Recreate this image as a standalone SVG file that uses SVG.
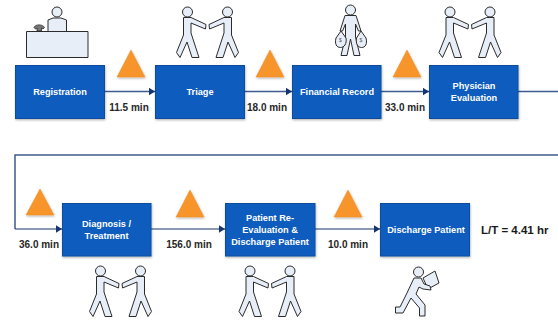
<svg xmlns="http://www.w3.org/2000/svg" xmlns:xlink="http://www.w3.org/1999/xlink" width="558" height="321" viewBox="0 0 558 321">
<style>
.box{fill:#0b5cbe;stroke:#0d4c9c;stroke-width:1;filter:url(#sh)}
.tri{fill:#f7952b;stroke:#ec8a22;stroke-width:.5;filter:url(#sh)}
.t{font-family:"Liberation Sans",Arial,sans-serif;font-weight:700;font-size:9.2px;fill:#fff;text-anchor:middle}
.l{font-family:"Liberation Sans",Arial,sans-serif;font-weight:700;font-size:10px;fill:#262626;text-anchor:middle}
.ic{fill:#e8eef7;stroke:#2b2b2b;stroke-width:1;stroke-linejoin:round}
.c1{fill:none;stroke:#3f5b8f;stroke-width:1.5}
.c2{fill:none;stroke:#14356f;stroke-width:1.2}
</style>
<defs>
<filter id="sh" x="-10%" y="-10%" width="125%" height="125%"><feDropShadow dx="0.5" dy="1.2" stdDeviation="0.8" flood-color="#000" flood-opacity=".3"/></filter>
<marker id="a" markerUnits="userSpaceOnUse" markerWidth="7" markerHeight="8" refX="6.5" refY="4" orient="auto"><path d="M0 0L6.5 4L0 8Z" fill="#14356f"/></marker>
<g id="man">
<circle class="ic" cx="187.500" cy="12" r="5"/>
<path class="ic" d="M183.500 17.500L191 17.500L206 24.500L205.500 29L191 23L191 33L199 57.500L192 57.500L187 42L180 57.500L176.500 52.500L183.500 35Z"/>
</g>
<g id="pair"><use xlink:href="#man" href="#man"/><use xlink:href="#man" href="#man" transform="matrix(-1 0 0 1 415 0)"/></g>
</defs>
<g id="connectors">
<path class="c1" marker-end="url(#a)" d="M105 91.500H155"/>
<path class="c1" marker-end="url(#a)" d="M245 91.500H292"/>
<path class="c1" marker-end="url(#a)" d="M381 91.500H429"/>
<path class="c1" d="M518 91.500H558"/>
<path class="c1" d="M558 155H15V229"/>
<path class="c2" marker-end="url(#a)" d="M15 229H62"/>
<path class="c2" marker-end="url(#a)" d="M151 229H225"/>
<path class="c2" marker-end="url(#a)" d="M315 229H380"/>
</g>
<g id="registration"><rect class="box" x="15.500" y="65.500" width="89" height="53"/><text class="t" x="60" y="95">Registration</text></g>
<g id="triage"><rect class="box" x="155.500" y="65.500" width="89" height="53"/><text class="t" x="200" y="95">Triage</text></g>
<g id="financial-record"><rect class="box" x="292.500" y="65.500" width="88.500" height="53"/><text class="t" x="337" y="95">Financial Record</text></g>
<g id="physician-evaluation"><rect class="box" x="429.500" y="65.500" width="88.500" height="53"/><text class="t" x="474" y="89">Physician</text><text class="t" x="474" y="100.500">Evaluation</text></g>
<g id="diagnosis-treatment"><rect class="box" x="62.500" y="203.500" width="88.500" height="52.500"/><text class="t" x="106.500" y="226.500">Diagnosis /</text><text class="t" x="106.500" y="238.500">Treatment</text></g>
<g id="patient-re-evaluation"><rect class="box" x="225.500" y="203.500" width="89.500" height="52.500"/><text class="t" x="270" y="220.500">Patient Re-</text><text class="t" x="270" y="232.500">Evaluation &amp;</text><text class="t" x="270" y="244.500">Discharge Patient</text></g>
<g id="discharge-patient"><rect class="box" x="380.500" y="203.500" width="89" height="52.500"/><text class="t" x="426" y="232.500">Discharge Patient</text></g>
<g id="waits">
<path class="tri" d="M131 50L145 77H117Z"/>
<path class="tri" d="M270 50L284 77H256Z"/>
<path class="tri" d="M407 50L421 77H393Z"/>
<path class="tri" d="M40 189L54 215H26Z"/>
<path class="tri" d="M190 190L204 217H176Z"/>
<path class="tri" d="M348 190L362 217H334Z"/>
</g>
<g id="times">
<text class="l" x="129" y="111">11.5 min</text>
<text class="l" x="267" y="111">18.0 min</text>
<text class="l" x="405" y="111">33.0 min</text>
<text class="l" x="39" y="248">36.0 min</text>
<text class="l" x="189" y="248">156.0 min</text>
<text class="l" x="348" y="248">10.0 min</text>
<text x="481" y="234" font-family="'Liberation Sans',Arial,sans-serif" font-weight="700" font-size="11.500" fill="#1a1a1a">L/T = 4.41 hr</text>
</g>
<g id="icon-receptionist">
<circle class="ic" cx="57" cy="12" r="5"/>
<path class="ic" d="M48 31.500V20L53 18H61L66.500 20V31.500Z"/>
<rect class="ic" x="26.500" y="31.500" width="61.500" height="26"/>
<path d="M34 27.500C35 24 43 24 44.500 27.500L43 29L41.500 28V31H37V28L35.500 29Z" fill="#777" stroke="#2b2b2b" stroke-width=".8"/>
</g>
<g id="icon-triage"><use xlink:href="#pair" href="#pair"/></g>
<g id="icon-financial">
<circle class="ic" cx="350.500" cy="10" r="5"/>
<path class="ic" d="M345 15.500H356L361 31H358.500L355.500 24V37L360 55.500H354L350.500 39L347 55.500H341L345.500 37V24L342.500 31H340Z"/>
<path class="ic" d="M341 31L346 38C347 44 344 47.500 340.500 47.500C336.500 47.500 334.500 44 336 38Z"/>
<path class="ic" d="M361 31L366 38C367.500 44 365.500 47.500 361.500 47.500C358 47.500 355.500 44 356.500 38Z"/>
<text x="340.500" y="42" font-family="'Liberation Sans',Arial,sans-serif" font-size="5px" fill="#555" text-anchor="middle">$</text>
<text x="361" y="42" font-family="'Liberation Sans',Arial,sans-serif" font-size="5px" fill="#555" text-anchor="middle">$</text>
</g>
<g id="icon-physician"><use xlink:href="#pair" href="#pair" transform="translate(262.500 0)"/></g>
<g id="icon-diagnosis"><use xlink:href="#pair" href="#pair" transform="translate(-87 259)"/></g>
<g id="icon-re-evaluation"><use xlink:href="#pair" href="#pair" transform="translate(62.500 259)"/></g>
<g id="icon-discharge">
<path class="ic" d="M423 278L435 271L439 283L428 289Z"/>
<circle class="ic" cx="418.500" cy="272" r="5"/>
<path class="ic" d="M414 278H421L424 284L430 286L431 290L423 289L419 287L416 294L425 305V316H419.500V308L411 298L403 313H395.500V307H400L407 293Z"/>
</g>
</svg>
